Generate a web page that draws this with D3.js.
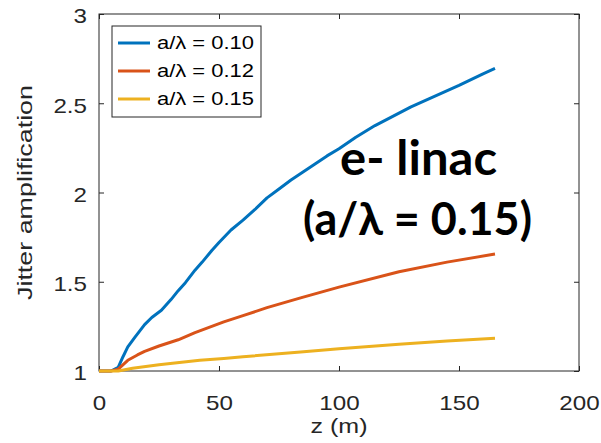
<!DOCTYPE html>
<html><head><meta charset="utf-8">
<script src="https://cdn.jsdelivr.net/npm/d3@7"></script>
<style>body{margin:0;background:#fff}svg{display:block}</style>
</head><body>
<svg id="c" width="601" height="443"></svg>
<script>
const seriesNames = ["a/\u03bb = 0.10", "a/\u03bb = 0.12", "a/\u03bb = 0.15"];
const colors = ["#0072BD", "#D95319", "#EDB120"];
const zBlue = [0,5,8,10,12,15,19,22,26,30,33,36,40,43,47,50,55,60,65,70,75,80,85,90,95,100,107,115,120,130,140,150,160,165];
const yBlue = [1,1,1.02,1.08,1.135,1.19,1.26,1.30,1.34,1.40,1.45,1.495,1.565,1.61,1.675,1.72,1.79,1.845,1.905,1.97,2.02,2.07,2.115,2.16,2.205,2.245,2.31,2.375,2.41,2.48,2.54,2.60,2.665,2.695];
const zRed = [0,5,8,12,16,19,25,33,40,52,60,70,84,100,125,145,165];
const yRed = [1,1,1.01,1.06,1.09,1.11,1.14,1.175,1.215,1.275,1.31,1.355,1.41,1.47,1.556,1.61,1.655];
const zYel = [0,5,8,14,25,42,52,60,84,100,125,145,165];
const yYel = [1,1,1.0,1.015,1.035,1.06,1.07,1.08,1.106,1.124,1.15,1.168,1.183];
const xTicks = [0,50,100,150,200];
const yTicks = [1,1.5,2,2.5,3];

const svg = d3.select("#c");
const L=99, R=579, T=14, B=371;
const x = d3.scaleLinear().domain([0,200]).range([L,R]);
const y = d3.scaleLinear().domain([1,3]).range([B,T]);
const axCol = "#262626";
const font = "'Liberation Sans', Arial, sans-serif";

svg.append("rect").attr("x",L).attr("y",T).attr("width",R-L).attr("height",B-T)
  .attr("fill","#fff").attr("stroke",axCol).attr("stroke-width",1);

const gx = svg.append("g").attr("transform",`translate(0,${B})`)
  .call(d3.axisBottom(x).tickValues(xTicks).tickSize(-5).tickPadding(24).tickFormat(d3.format("d")));
const gxt = svg.append("g").attr("transform",`translate(0,${T})`)
  .call(d3.axisTop(x).tickValues(xTicks).tickSize(-5).tickFormat(""));
const gy = svg.append("g").attr("transform",`translate(${L},0)`)
  .call(d3.axisLeft(y).tickValues(yTicks).tickSize(-5).tickPadding(12).tickFormat(d=>String(d)));
const gyr = svg.append("g").attr("transform",`translate(${R},0)`)
  .call(d3.axisRight(y).tickValues(yTicks).tickSize(-5).tickFormat(""));
[gx,gxt,gy,gyr].forEach(g=>{
  g.select(".domain").remove();
  g.selectAll("line").attr("stroke",axCol);
  g.selectAll("text").attr("fill",axCol).style("font-family",font).style("font-size","21px");
});
gx.selectAll("text").attr("dy","0.72em");
gy.selectAll("text").attr("dy","0.42em");
const k = 1.15;
gx.selectAll("text").each(function(){
  const w = this.getComputedTextLength();
  d3.select(this).attr("text-anchor","start").attr("x",-w*k/2)
    .attr("textLength",w*k).attr("lengthAdjust","spacingAndGlyphs");
});
gy.selectAll("text").each(function(){
  const w = this.getComputedTextLength();
  d3.select(this).attr("text-anchor","start").attr("x",-12-w*k)
    .attr("textLength",w*k).attr("lengthAdjust","spacingAndGlyphs");
});

const line = d3.line().x(d=>x(d[0])).y(d=>y(d[1]));
const data = [d3.zip(zBlue,yBlue), d3.zip(zRed,yRed), d3.zip(zYel,yYel)];
data.forEach((d,i)=>{
  svg.append("path").datum(d).attr("d",line).attr("fill","none")
    .attr("stroke",colors[i]).attr("stroke-width",3).attr("stroke-linejoin","round");
});

svg.append("text").attr("x",(L+R)/2 - 28.5).attr("y",433)
  .attr("fill",axCol).style("font-family",font).style("font-size","21px")
  .attr("textLength",57).attr("lengthAdjust","spacingAndGlyphs").text("z (m)");
svg.append("text").attr("transform",`translate(32,${(T+B)/2}) rotate(-90)`).attr("x",-107.5)
  .attr("fill",axCol).style("font-family",font).style("font-size","21px")
  .attr("textLength",215).attr("lengthAdjust","spacingAndGlyphs").text("Jitter amplification");

const lg = svg.append("g");
lg.append("rect").attr("x",112).attr("y",26).attr("width",149).attr("height",91)
  .attr("fill","#fff").attr("stroke",axCol).attr("stroke-width",1);
seriesNames.forEach((s,i)=>{
  const yy = 43 + i*28;
  lg.append("line").attr("x1",118).attr("x2",150).attr("y1",yy).attr("y2",yy)
    .attr("stroke",colors[i]).attr("stroke-width",3);
  lg.append("text").attr("x",157).attr("y",yy).attr("dy","0.36em").attr("fill","#000")
    .style("font-family",font).style("font-size","17.5px")
    .attr("textLength",97).attr("lengthAdjust","spacingAndGlyphs").text(s);
});

const af = "Lato, 'Open Sans', sans-serif";
svg.append("text").attr("x",340).attr("y",175)
  .style("font-family",af).style("font-weight","bold").style("font-size","47px").attr("fill","#000")
  .attr("textLength",157).attr("lengthAdjust","spacingAndGlyphs").text("e- linac");
svg.append("text").attr("x",303).attr("y",235)
  .style("font-family",af).style("font-weight","bold").style("font-size","46px").attr("fill","#000")
  .attr("textLength",229).attr("lengthAdjust","spacingAndGlyphs").text("(a/\u03bb = 0.15)");
</script>
</body></html>
